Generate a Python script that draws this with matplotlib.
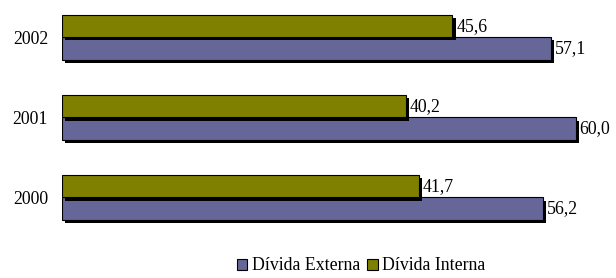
import numpy as np
import matplotlib

matplotlib.use("Agg")
import matplotlib.pyplot as plt
import matplotlib.patheffects as pe
from matplotlib.patches import Patch

years = ["2000", "2001", "2002"]
externa = [56.2, 60.0, 57.1]
interna = [41.7, 40.2, 45.6]
BLUE, OLIVE = "#666699", "#808000"
FS = 12.8

plt.rcParams["font.family"] = ["Liberation Serif", "DejaVu Serif"]

fig = plt.figure(figsize=(6.16, 2.78), dpi=100)
ax = fig.add_axes([62 / 616, 0.160, 548 / 616, 0.835])

y = np.arange(len(years))
h = 0.28
shadow = [pe.SimplePatchShadow(offset=(2.2, -2.2), shadow_rgbFace="black", alpha=1.0),
          pe.Normal()]
b_ext = ax.barh(y - h / 2, externa, height=h, color=BLUE, edgecolor="black",
                linewidth=0.8)
b_int = ax.barh(y + h / 2, interna, height=h, color=OLIVE, edgecolor="black",
                linewidth=0.8)
for bars in (b_ext, b_int):
    for b in bars:
        b.set_path_effects(shadow)

for yi, v in zip(y - h / 2, externa):
    ax.text(v + 0.45, yi, f"{v:.1f}".replace(".", ","), va="center",
            ha="left", fontsize=FS)
for yi, v in zip(y + h / 2, interna):
    ax.text(v + 0.45, yi, f"{v:.1f}".replace(".", ","), va="center",
            ha="left", fontsize=FS)

ax.set_xlim(0, 64)
ax.set_ylim(-0.45, 2.45)
ax.set_yticks(y)
ax.set_yticklabels(years, fontsize=FS)
ax.tick_params(axis="y", length=0, pad=10)
ax.set_xticks([])
for side in ax.spines.values():
    side.set_visible(False)

handles = [Patch(facecolor=BLUE, edgecolor="black", linewidth=0.8, label="Dívida Externa"),
           Patch(facecolor=OLIVE, edgecolor="black", linewidth=0.8, label="Dívida Interna")]
fig.legend(handles=handles, loc="center", ncol=2, frameon=False,
           bbox_to_anchor=(361 / 616, 12 / 278), fontsize=FS,
           handlelength=0.6, handleheight=0.6, handletextpad=0.25,
           columnspacing=0.4, borderpad=0)
fig.savefig("out.png", dpi=100)
